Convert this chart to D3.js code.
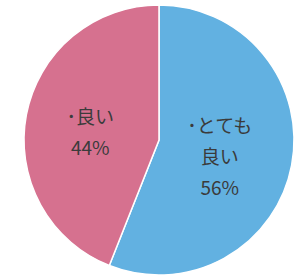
<!DOCTYPE html>
<html>
<head>
<meta charset="utf-8">
<script src="https://cdn.jsdelivr.net/npm/d3@7"></script>
<style>
  body { margin: 0; background: #fff; }
  svg { display: block; }
</style>
</head>
<body>
<svg id="chart" width="298" height="277"></svg>
<script>
// données du camembert
const categories = ['･とても\n良い', '･良い'];
const values = [56, 44];
const colors = ['#62b1e1', '#d6718f'];

const svg = d3.select('#chart'),
    cx = 159, cy = 140, r = 135;

const g = svg.append('g').attr('transform', `translate(${cx},${cy})`);

const pie = d3.pie().sort(null).value(d => d.v);
const arcs = pie(categories.map((c, i) => ({ c: c, v: values[i], col: colors[i] })));

const arc = d3.arc().innerRadius(0).outerRadius(r);
const labelArc = d3.arc().innerRadius(66).outerRadius(66);

g.selectAll('path.slice')
    .data(arcs).enter()
    .append('path')
    .attr('class', 'slice')
    .attr('d', arc)
    .attr('fill', d => d.data.col)
    .attr('stroke', '#fff')
    .attr('stroke-width', 1.5);

// étiquettes : catégorie + pourcentage
const lh = 31;
g.selectAll('text.lab')
    .data(arcs).enter()
    .append('text')
    .attr('class', 'lab')
    .attr('font-family', '"Noto Sans CJK JP", sans-serif')
    .attr('font-size', 19)
    .attr('fill', '#3b3b3b')
    .attr('text-anchor', 'middle')
    .each(function (d) {
        const lines = d.data.c.split('\n').concat([d.data.v + '%']),
            [x, y] = labelArc.centroid(d),
            y0 = y - (lines.length - 1) * lh / 2 + 12;
        lines.forEach((l, i) => {
            d3.select(this).append('tspan')
                .attr('x', x - 4)
                .attr('y', y0 + i * lh)
                .text(l);
        });
    });
</script>
</body>
</html>
